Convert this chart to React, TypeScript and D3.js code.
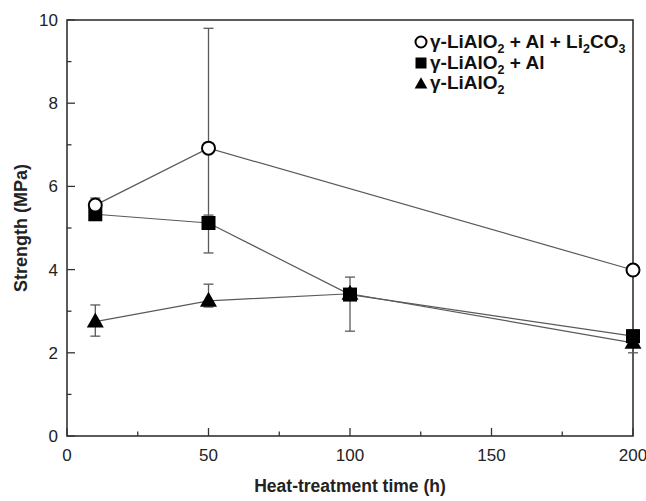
import React from "react";
import * as d3 from "d3";

// Heat-treatment time (h) at which each sample set was measured
const timesLiCO = [10, 50, 200];
const timesAl = [10, 50, 100, 200];
const timesPure = [10, 50, 100, 200];

// Strength (MPa) with upper / lower error bar limits
const strengthLiCO = [5.55, 6.92, 3.99];
const upperLiCO = [5.72, 9.8, 4.08];
const lowerLiCO = [5.4, 5.2, 3.9];

const strengthAl = [5.33, 5.12, 3.4, 2.4];
const upperAl = [5.45, 5.31, 3.82, 2.55];
const lowerAl = [5.2, 4.4, 2.52, 2.25];

const strengthPure = [2.75, 3.25, 3.42, 2.24];
const upperPure = [3.15, 3.65, 3.5, 2.35];
const lowerPure = [2.4, 3.1, 3.35, 2.0];

const xTicks = [0, 50, 100, 150, 200];
const xMinor = [25, 75, 125, 175];
const yTicks = [0, 2, 4, 6, 8, 10];
const yMinor = [1, 3, 5, 7, 9];

const W = 646;
const H = 501;
const left = 67;
const right = 633;
const top = 20;
const bottom = 436;

const x = d3.scaleLinear().domain([0, 200]).range([left, right]);
const y = d3.scaleLinear().domain([0, 10]).range([bottom, top]);

const FONT = "'Liberation Sans', Arial, sans-serif";
const LINE = "#5a5a5a";

type Series = { t: number[]; v: number[]; hi: number[]; lo: number[] };

const seriesLiCO: Series = { t: timesLiCO, v: strengthLiCO, hi: upperLiCO, lo: lowerLiCO };
const seriesAl: Series = { t: timesAl, v: strengthAl, hi: upperAl, lo: lowerAl };
const seriesPure: Series = { t: timesPure, v: strengthPure, hi: upperPure, lo: lowerPure };

const lineGen = d3
  .line<[number, number]>()
  .x((d) => x(d[0]))
  .y((d) => y(d[1]));

function ErrorBars({ s }: { s: Series }) {
  return (
    <g stroke={LINE} strokeWidth={1.3}>
      {s.t.map((t, i) => (
        <g key={i}>
          <line x1={x(t)} x2={x(t)} y1={y(s.hi[i])} y2={y(s.lo[i])} />
          <line x1={x(t) - 5} x2={x(t) + 5} y1={y(s.hi[i])} y2={y(s.hi[i])} />
          <line x1={x(t) - 5} x2={x(t) + 5} y1={y(s.lo[i])} y2={y(s.lo[i])} />
        </g>
      ))}
    </g>
  );
}

function Path({ s }: { s: Series }) {
  const pts = s.t.map((t, i) => [t, s.v[i]] as [number, number]);
  return <path d={lineGen(pts) || ""} fill="none" stroke={LINE} strokeWidth={1.2} />;
}

const circle = (cx: number, cy: number, k: string | number, r = 6.5) => (
  <circle key={k} cx={cx} cy={cy} r={r} fill="#fff" stroke="#000" strokeWidth={2} />
);
const square = (cx: number, cy: number, k: string | number, h = 7) => (
  <rect key={k} x={cx - h} y={cy - h} width={2 * h} height={2 * h} fill="#000" />
);
const triangle = (cx: number, cy: number, k: string | number, s = 1) => (
  <path
    key={k}
    d={`M${cx},${cy - 9 * s} L${cx + 8.5 * s},${cy + 6 * s} L${cx - 8.5 * s},${cy + 6 * s} Z`}
    fill="#000"
  />
);

const SUB = 12.5;
const DROP = 5;

export default function App() {
  return (
    <svg width={W} height={H} style={{ position: "absolute", left: 0, top: 0, background: "#fff" }}>
      <rect width={W} height={H} fill="#fff" />

      {/* frame */}
      <rect x={left} y={top} width={right - left} height={bottom - top} fill="none" stroke="#333" strokeWidth={1.6} />

      {/* x ticks (inward) */}
      {xTicks.map((t) => (
        <line key={"xt" + t} x1={x(t)} x2={x(t)} y1={bottom} y2={bottom - 8} stroke="#333" strokeWidth={1.3} />
      ))}
      {xMinor.map((t) => (
        <line key={"xm" + t} x1={x(t)} x2={x(t)} y1={bottom} y2={bottom - 4.5} stroke="#333" strokeWidth={1.3} />
      ))}
      {xTicks.map((t) => (
        <text key={"xl" + t} x={x(t)} y={bottom + 25} textAnchor="middle" fontFamily={FONT} fontSize={17} fill="#222">
          {t}
        </text>
      ))}

      {/* y ticks (inward) */}
      {yTicks.map((t) => (
        <line key={"yt" + t} x1={left} x2={left + 8} y1={y(t)} y2={y(t)} stroke="#333" strokeWidth={1.3} />
      ))}
      {yMinor.map((t) => (
        <line key={"ym" + t} x1={left} x2={left + 4.5} y1={y(t)} y2={y(t)} stroke="#333" strokeWidth={1.3} />
      ))}
      {yTicks.map((t) => (
        <text key={"yl" + t} x={left - 9} y={y(t) + 6} textAnchor="end" fontFamily={FONT} fontSize={17} fill="#222">
          {t}
        </text>
      ))}

      {/* axis titles */}
      <text x={(left + right) / 2} y={492} textAnchor="middle" fontFamily={FONT} fontWeight="bold" fontSize={17.5} fill="#222">
        Heat-treatment time (h)
      </text>
      <text
        transform={`translate(27,${(top + bottom) / 2}) rotate(-90)`}
        textAnchor="middle"
        fontFamily={FONT}
        fontWeight="bold"
        fontSize={18}
        fill="#222"
      >
        Strength (MPa)
      </text>

      {/* error bars */}
      <ErrorBars s={seriesLiCO} />
      <ErrorBars s={seriesAl} />
      <ErrorBars s={seriesPure} />

      {/* connecting lines */}
      <Path s={seriesLiCO} />
      <Path s={seriesAl} />
      <Path s={seriesPure} />

      {/* markers */}
      {seriesPure.t.map((t, i) => triangle(x(t), y(seriesPure.v[i]), "tr" + i))}
      {seriesAl.t.map((t, i) => square(x(t), y(seriesAl.v[i]), "sq" + i))}
      {seriesLiCO.t.map((t, i) => circle(x(t), y(seriesLiCO.v[i]), "ci" + i))}

      {/* legend */}
      <g fontFamily={FONT} fontWeight="bold" fontSize={19} fill="#111">
        {circle(421, 42, "lg1", 5.5)}
        <text x={430} y={48}>
          <tspan>γ-LiAlO</tspan>
          <tspan dy={DROP} fontSize={SUB}>2</tspan>
          <tspan dy={-DROP}> + Al + Li</tspan>
          <tspan dy={DROP} fontSize={SUB}>2</tspan>
          <tspan dy={-DROP}>CO</tspan>
          <tspan dy={DROP} fontSize={SUB}>3</tspan>
        </text>
        {square(421, 63, "lg2", 5.5)}
        <text x={430} y={69}>
          <tspan>γ-LiAlO</tspan>
          <tspan dy={DROP} fontSize={SUB}>2</tspan>
          <tspan dy={-DROP}> + Al</tspan>
        </text>
        {triangle(421, 84, "lg3", 0.75)}
        <text x={430} y={89}>
          <tspan>γ-LiAlO</tspan>
          <tspan dy={DROP} fontSize={SUB}>2</tspan>
        </text>
      </g>
    </svg>
  );
}
